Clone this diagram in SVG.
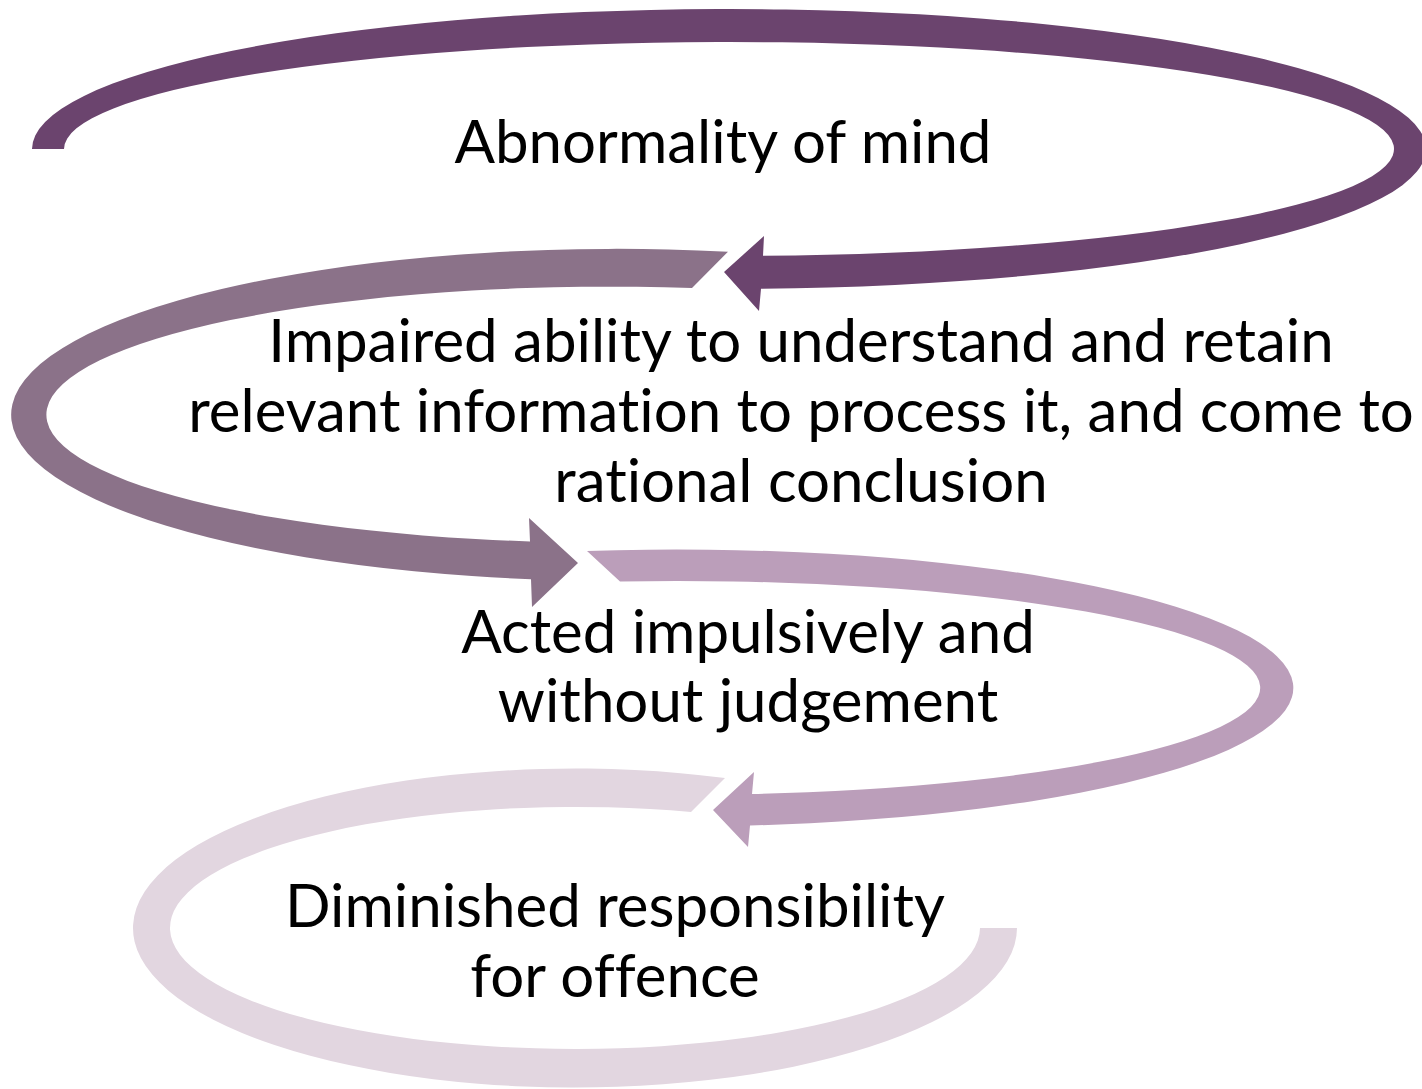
<svg xmlns="http://www.w3.org/2000/svg" width="1422" height="1089" viewBox="0 0 1422 1089">
<style>
  .lbl { font-family: Lato, "Liberation Sans", sans-serif; font-size: 60px; fill: #000; text-anchor: middle; font-variant-ligatures: none; font-feature-settings: "liga" 0, "clig" 0; }
  .a1 { fill: #6B446E; }
  .a2 { fill: #8B7289; }
  .a3 { fill: #BB9EBA; }
  .a4 { fill: #E2D6E0; }
</style>
<rect width="1422" height="1089" fill="#ffffff"/>
<g id="connectors">
  <path id="arrow1" class="a1" d="M 32 149 A 697 140 0 1 1 761 288.85 L 759 311 L 724 272 L 764 236 L 763 255.86 A 665 107 0 1 0 64 149 Z"/>
  <path id="arrow2" class="a2" d="M 728 251.7 A 605.5 166 0 1 0 531 579.2 L 532 607 L 578 563 L 529 518 L 530 541.4 A 564.5 128 0 0 1 692 288 Z"/>
  <path id="arrow3" class="a3" d="M 587 550.95 A 617 138.5 0 1 1 750 825.5 L 748 847 L 713 810 L 754 772 L 752 794.1 A 582 107 0 0 0 620 581.5 Z"/>
  <path id="arrow4" class="a4" d="M 725 778 A 442 159.5 0 1 0 1017 928 L 980 928 A 405 121 0 1 1 691 812 Z"/>
</g>
<g id="node-abnormality">
  <text class="lbl" x="723" y="163">Abnormality of mind</text>
</g>
<g id="node-impaired">
  <text class="lbl" x="801" y="362">Impaired ability to understand and retain</text>
  <text class="lbl" x="801" y="432">relevant information to process it, and come to</text>
  <text class="lbl" x="801" y="502">rational conclusion</text>
</g>
<g id="node-acted">
  <text class="lbl" x="748" y="653">Acted impulsively and</text>
  <text class="lbl" x="748" y="722">without judgement</text>
</g>
<g id="node-diminished">
  <text class="lbl" x="615" y="927">Diminished responsibility</text>
  <text class="lbl" x="615" y="997">for offence</text>
</g>
</svg>
